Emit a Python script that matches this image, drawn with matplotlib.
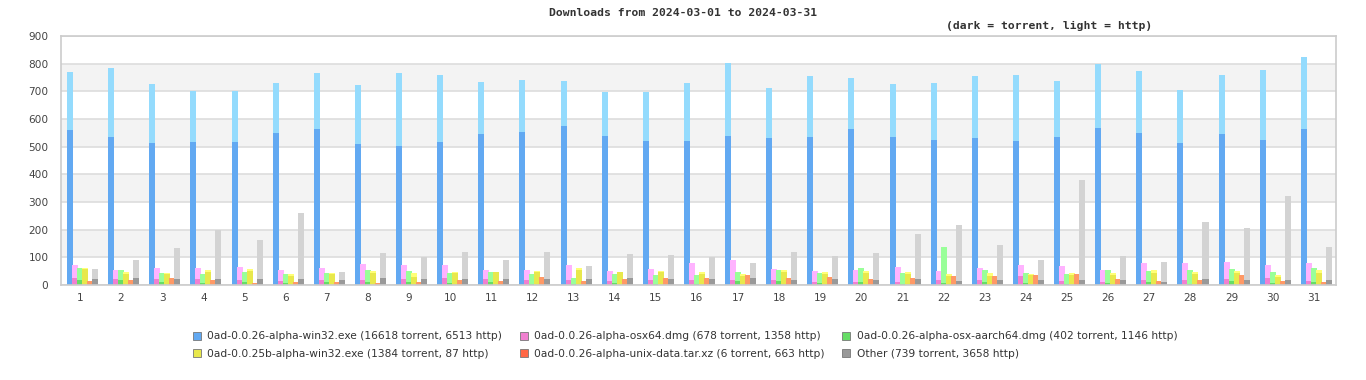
import matplotlib

matplotlib.use("Agg")

import matplotlib.pyplot as plt
import numpy as np
from matplotlib.lines import Line2D

days = list(range(1, 32))

# torrent (dark) and http (light) downloads per day
win32_torrent = [560, 535, 513, 517, 517, 549, 564, 509, 502, 517, 546, 553, 574, 538, 520, 520, 538,
                 531, 535, 564, 535, 524, 531, 520, 535, 567, 549, 513, 546, 524, 564]
win32_total = [769, 783, 726, 700, 700, 729, 765, 722, 765, 758, 733, 740, 736, 697, 697, 729, 801,
               711, 755, 747, 726, 729, 755, 758, 736, 798, 773, 704, 758, 776, 823]
osx64_torrent = [25, 22, 22, 22, 18, 14, 18, 18, 22, 25, 22, 18, 18, 14, 18, 18, 18,
                 18, 11, 11, 11, 18, 18, 32, 14, 11, 18, 18, 22, 25, 14]
osx64_total = [72, 54, 61, 61, 65, 54, 61, 76, 72, 72, 54, 54, 72, 51, 58, 79, 90,
               58, 51, 54, 65, 51, 61, 72, 69, 54, 79, 79, 83, 72, 79]
aarch64_torrent = [18, 18, 11, 7, 11, 7, 11, 11, 11, 7, 11, 4, 4, 7, 4, 4, 14,
                   14, 7, 11, 4, 7, 11, 7, 4, 7, 11, 4, 14, 7, 11]
aarch64_total = [61, 54, 43, 40, 47, 40, 43, 54, 51, 43, 47, 40, 25, 40, 36, 36, 47,
                 54, 43, 61, 43, 137, 54, 43, 40, 54, 51, 54, 58, 47, 61]
win32_25b_torrent = [58, 40, 40, 47, 51, 32, 40, 43, 29, 43, 47, 47, 54, 47, 47, 40, 32,
                     47, 40, 43, 40, 32, 32, 36, 36, 36, 43, 40, 43, 29, 43]
win32_25b_total = [61, 47, 43, 54, 58, 40, 43, 51, 43, 47, 47, 51, 61, 47, 51, 47, 40,
                   54, 47, 51, 47, 40, 43, 40, 43, 43, 54, 47, 51, 36, 54]
unix_torrent = [0] * 31
unix_total = [14, 18, 25, 18, 7, 11, 11, 7, 11, 18, 14, 29, 14, 22, 25, 25, 36,
              25, 29, 22, 25, 32, 32, 36, 40, 22, 14, 18, 36, 14, 11]
other_torrent = [22, 25, 22, 22, 22, 22, 18, 25, 22, 22, 22, 22, 22, 25, 22, 22, 25,
                 18, 22, 18, 22, 14, 18, 18, 18, 18, 11, 22, 18, 18, 18]
other_total = [58, 90, 134, 199, 162, 260, 47, 116, 101, 119, 90, 119, 69, 112, 108, 101, 79,
               119, 105, 116, 184, 217, 144, 90, 379, 105, 83, 227, 206, 321, 137]

labels = [
    "0ad-0.0.26-alpha-win32.exe (16618 torrent, 6513 http)",
    "0ad-0.0.26-alpha-osx64.dmg (678 torrent, 1358 http)",
    "0ad-0.0.26-alpha-osx-aarch64.dmg (402 torrent, 1146 http)",
    "0ad-0.0.25b-alpha-win32.exe (1384 torrent, 87 http)",
    "0ad-0.0.26-alpha-unix-data.tar.xz (6 torrent, 663 http)",
    "Other (739 torrent, 3658 http)",
]

series = [
    (win32_torrent, win32_total),
    (osx64_torrent, osx64_total),
    (aarch64_torrent, aarch64_total),
    (win32_25b_torrent, win32_25b_total),
    (unix_torrent, unix_total),
    (other_torrent, other_total),
]
dark = ["#62a9f2", "#f080d0", "#66dd66", "#e8e84c", "#ff6644", "#999999"]
light = ["#94dbfd", "#ffb3ff", "#99ff99", "#ffff77", "#ff9966", "#d3d3d3"]

fig = plt.figure(figsize=(13.66, 3.8), dpi=100)
ax = fig.add_axes([61 / 1366, 1 - 285 / 380, 1275 / 1366, 249 / 380])

# alternating background bands
for lo in range(100, 900, 200):
    ax.axhspan(lo, lo + 100, color="#f3f3f3", zorder=0, linewidth=0)
ax.set_axisbelow(True)
ax.yaxis.grid(True, color="#dddddd", linewidth=1.2)

x = np.arange(len(days))
step, width, first = 0.1216, 0.146, 0.146
for k, (tor, tot) in enumerate(series):
    tor = np.array(tor)
    http = np.array(tot) - tor
    left = x + first + k * step
    ax.bar(left, tor, width=width, align="edge", color=dark[k], linewidth=0, zorder=2)
    ax.bar(left, http, bottom=tor, width=width, align="edge", color=light[k], linewidth=0, zorder=2)

ax.set_xlim(0, len(days))
ax.set_ylim(0, 900)
ax.set_yticks(range(0, 901, 100))
ax.set_xticks(x + 0.46)
ax.set_xticklabels([str(d) for d in days])
ax.tick_params(axis="both", length=0, labelsize=7.6, colors="#444444")
ax.tick_params(axis="y", pad=9)
ax.tick_params(axis="x", pad=6)
for side in ax.spines.values():
    side.set_color("#cccccc")
    side.set_linewidth(1.2)

fig.text(0.5, 1 - 13 / 380, "Downloads from 2024-03-01 to 2024-03-31", ha="center", va="center",
         family="DejaVu Sans Mono", fontweight="bold", fontsize=8.2, color="#333333")
fig.text(1152 / 1366, 1 - 26 / 380, "(dark = torrent, light = http)", ha="right", va="center",
         family="DejaVu Sans Mono", fontweight="bold", fontsize=8.2, color="#333333")

handles = [Line2D([], [], linestyle="none", marker="s", markersize=6, markerfacecolor=c,
                  markeredgecolor="#777777", markeredgewidth=0.6) for c in dark]
order = [0, 3, 1, 4, 2, 5]
fig.legend([handles[i] for i in order], [labels[i] for i in order], ncol=3,
           loc="center", bbox_to_anchor=(685 / 1366, 1 - 345 / 380), frameon=False,
           prop={"family": "DejaVu Sans", "size": 7.7},
           handlelength=0.8, handletextpad=0.6, columnspacing=1.6, labelspacing=0.7,
           labelcolor="#333333")

fig.savefig("out.png", dpi=100)
plt.close(fig)
